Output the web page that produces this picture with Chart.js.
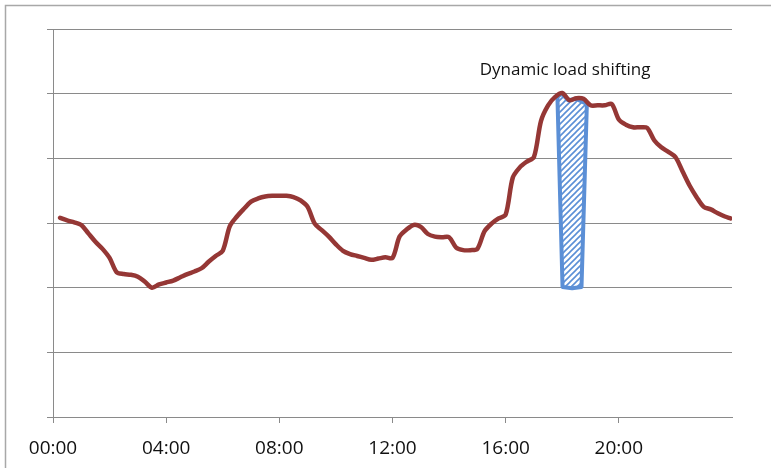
<!DOCTYPE html>
<html>
<head>
<meta charset="utf-8">
<script src="https://cdn.jsdelivr.net/npm/chart.js@4"></script>
<style>
  html, body { margin: 0; padding: 0; background: #ffffff; }
  #wrap { width: 771px; height: 468px; position: relative; }
</style>
</head>
<body>
<div id="wrap"><canvas id="c" width="771" height="468"></canvas></div>
<script>
// Daily load profile, quarter-hour resolution (hours since midnight)
const hours = [
  0.25, 0.5, 0.75, 1.0, 1.25, 1.5, 1.75, 2.0, 2.25, 2.5, 2.75, 3.0,
  3.25, 3.5, 3.75, 4.0, 4.25, 4.5, 4.75, 5.0, 5.25, 5.5, 5.75, 6.0,
  6.25, 6.5, 6.75, 7.0, 7.25, 7.5, 7.75, 8.0, 8.25, 8.5, 8.75, 9.0,
  9.25, 9.5, 9.75, 10.0, 10.25, 10.5, 10.75, 11.0, 11.25, 11.5, 11.75, 12.0,
  12.25, 12.5, 12.75, 13.0, 13.25, 13.5, 13.75, 14.0, 14.25, 14.5, 14.75, 15.0,
  15.25, 15.5, 15.75, 16.0, 16.25, 16.5, 16.75, 17.0, 17.25, 17.5, 17.75, 18.0,
  18.25, 18.5, 18.75, 19.0, 19.25, 19.5, 19.75, 20.0, 20.25, 20.5, 20.75, 21.0,
  21.25, 21.5, 21.75, 22.0, 22.25, 22.5, 22.75, 23.0, 23.25, 23.5, 23.75, 23.95
];
const load = [
  3.08, 3.04, 3.01, 2.97, 2.84, 2.71, 2.60, 2.46, 2.24, 2.21, 2.20, 2.17,
  2.09, 2.00, 2.05, 2.08, 2.11, 2.16, 2.21, 2.25, 2.30, 2.40, 2.49, 2.57,
  2.95, 3.10, 3.22, 3.33, 3.38, 3.41, 3.42, 3.42, 3.42, 3.40, 3.35, 3.25,
  2.99, 2.89, 2.79, 2.67, 2.57, 2.52, 2.49, 2.46, 2.43, 2.45, 2.47, 2.46,
  2.79, 2.90, 2.97, 2.94, 2.83, 2.79, 2.78, 2.78, 2.62, 2.58, 2.58, 2.60,
  2.87, 2.99, 3.07, 3.13, 3.70, 3.86, 3.95, 4.02, 4.58, 4.82, 4.95, 5.01,
  4.90, 4.93, 4.92, 4.82, 4.82, 4.82, 4.84, 4.60, 4.52, 4.48, 4.48, 4.47,
  4.28, 4.17, 4.10, 4.02, 3.80, 3.58, 3.40, 3.25, 3.21, 3.15, 3.10, 3.07
];

// Outline of the shifted block (closed shape, hours / load)
const shiftHours = [17.83, 18.01, 18.35, 18.68, 18.87, 18.5, 18.2, 17.98, 17.83];
const shiftLoad  = [4.95, 2.01, 1.99, 2.01, 4.84, 4.92, 4.90, 5.00, 4.95];

const tickHours = [0, 4, 8, 12, 16, 20];
const noteText = 'Dynamic load shifting';

const lineRed = '#953735';
const shiftBlue = '#5b8fd6';
const gridGrey = '#8a8a8a';
const frameGrey = '#a8a8a8';

function hatchPattern(color) {
  const s = 6;
  const p = document.createElement('canvas');
  p.width = s; p.height = s;
  const g = p.getContext('2d');
  g.fillStyle = '#ffffff';
  g.fillRect(0, 0, s, s);
  g.strokeStyle = color;
  g.lineWidth = 1.6;
  g.beginPath();
  g.moveTo(0, s); g.lineTo(s, 0);
  g.moveTo(-s / 2, s / 2); g.lineTo(s / 2, -s / 2);
  g.moveTo(s / 2, s * 1.5); g.lineTo(s * 1.5, s / 2);
  g.stroke();
  return g.createPattern(p, 'repeat');
}

const frame = {
  id: 'frame',
  beforeDraw(chart) {
    const ctx = chart.ctx;
    ctx.save();
    ctx.strokeStyle = frameGrey;
    ctx.lineWidth = 1.5;
    ctx.beginPath();
    ctx.moveTo(5.5, chart.height);
    ctx.lineTo(5.5, 5.5);
    ctx.lineTo(chart.width, 5.5);
    ctx.stroke();
    ctx.restore();
  }
};

const note = {
  id: 'note',
  afterDatasetsDraw(chart, args, opts) {
    const {ctx, scales: {x, y}} = chart;
    ctx.save();
    ctx.font = '17px "Open Sans"';
    ctx.fillStyle = '#111111';
    ctx.textAlign = 'center';
    ctx.textBaseline = 'alphabetic';
    ctx.fillText(opts.text, x.getPixelForValue(opts.x), y.getPixelForValue(opts.y));
    ctx.restore();
  }
};

const fmt = h => String(h).padStart(2, '0') + ':00';

new Chart(document.getElementById('c'), {
  type: 'line',
  data: {
    datasets: [
      {
        label: 'Load',
        data: hours.map((h, i) => ({x: h, y: load[i]})),
        borderColor: lineRed,
        borderWidth: 4.5,
        pointRadius: 0,
        tension: 0.3,
        fill: false,
        borderCapStyle: 'round',
        borderJoinStyle: 'round',
        order: 1
      },
      {
        label: 'Shifted',
        data: shiftHours.map((h, i) => ({x: h, y: shiftLoad[i]})),
        borderColor: shiftBlue,
        backgroundColor: hatchPattern(shiftBlue),
        borderWidth: 4,
        pointRadius: 0,
        tension: 0,
        fill: 'shape',
        borderJoinStyle: 'round',
        order: 2
      }
    ]
  },
  options: {
    responsive: false,
    animation: false,
    layout: { padding: { left: 47, top: 29, right: 39, bottom: 0 } },
    plugins: {
      legend: { display: false },
      tooltip: { enabled: false },
      note: { text: noteText, x: 18.1, y: 5.29 }
    },
    scales: {
      x: {
        type: 'linear',
        min: 0,
        max: 24,
        afterBuildTicks(scale) {
          scale.ticks = tickHours.concat([24]).map(v => ({value: v}));
        },
        afterFit(scale) {
          scale.height = 51;
        },
        ticks: {
          callback: v => (v === 24 ? null : fmt(v)),
          font: { family: '"Open Sans"', size: 19 },
          color: '#111111',
          padding: 14,
          maxRotation: 0,
          autoSkip: false
        },
        grid: {
          drawOnChartArea: true,
          color: c => (c.tick && c.tick.value === 24 ? gridGrey : 'rgba(0,0,0,0)'),
          tickColor: c => (c.tick && c.tick.value === 24 ? 'rgba(0,0,0,0)' : gridGrey),
          tickLength: 6,
          lineWidth: 1
        },
        border: { display: true, color: gridGrey, width: 1 }
      },
      y: {
        min: 0,
        max: 6,
        ticks: { display: false, stepSize: 1 },
        grid: { color: gridGrey, tickLength: 6, lineWidth: 1 },
        border: { display: true, color: gridGrey, width: 1 }
      }
    }
  },
  plugins: [frame, note]
});
</script>
</body>
</html>
